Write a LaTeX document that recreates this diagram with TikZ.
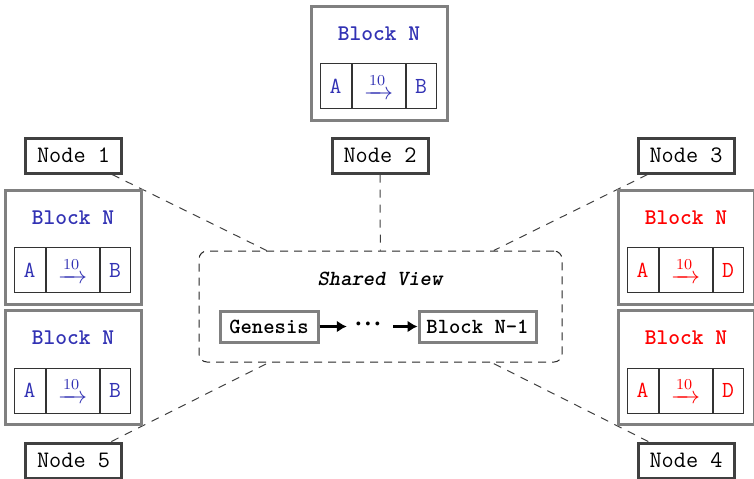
\documentclass[tikz,border=0pt]{standalone}
\usepackage{amsmath}
\usetikzlibrary{calc,arrows.meta,backgrounds}
\definecolor{blockblue}{RGB}{50,50,180}
\definecolor{boxgray}{RGB}{128,128,128}
\definecolor{nodegray}{RGB}{64,64,64}
\tikzset{
  peer/.style={draw=nodegray,line width=1.5pt,fill=white,minimum width=48pt,minimum height=17.5pt,inner sep=0pt,font=\fontsize{11.8}{13}\selectfont\ttfamily},
  blockbox/.style={draw=boxgray,line width=1.5pt,fill=white,minimum width=68pt,minimum height=57pt,inner sep=0pt},
  blocktitle/.style={font=\fontsize{11.2}{13}\selectfont\ttfamily\bfseries,inner sep=0pt},
  cell/.style={draw=black!80,line width=0.5pt,minimum height=22.5pt,inner sep=0pt,font=\fontsize{11.5}{13}\selectfont\ttfamily},
  chainbox/.style={draw=boxgray,line width=1.5pt,fill=white,minimum height=15.5pt,inner sep=0pt,font=\fontsize{10.8}{12}\selectfont\ttfamily\bfseries},
  shared/.style={draw=black!85,line width=0.5pt,dash pattern=on 4pt off 3pt,rounded corners=4pt,minimum width=181.5pt,minimum height=55.5pt,inner sep=0pt},
  link/.style={draw=black!75,line width=0.5pt,dash pattern=on 4pt off 3.5pt},
  chainarrow/.style={line width=1.3pt,-{Latex[length=5pt,width=6pt]}}
}
\newcommand{\tenarrow}{$\xrightarrow{\makebox[8pt]{\fontsize{7.6}{8}\selectfont\rmfamily 10}}$}
% #1 name, #2 x, #3 y, #4 colour, #5 right letter
\newcommand{\chainblock}[5]{%
  \node[blockbox] (#1) at (#2,#3) {};
  \node[blocktitle,text=#4] (#1t) at ($(#1.north)+(0,29)$) {Block N};
  \node[cell,minimum width=26.5pt,text=#4] (#1m) at ($(#1.north)+(-0.5,81.5)$) {\tenarrow};
  \node[cell,minimum width=15.5pt,anchor=east,text=#4] (#1a) at (#1m.west) {A};
  \node[cell,minimum width=15pt,anchor=west,text=#4] (#1b) at (#1m.east) {#5};
}
\begin{document}
\begin{tikzpicture}[x=0.5pt,y=-0.5pt]
\useasboundingbox (0,0) rectangle (754,478);
% shared view
\node[shared] (sv) at (380.5,306.5) {};
\node[font=\fontsize{10.8}{12}\selectfont\ttfamily\bfseries\itshape,inner sep=0pt] (svt) at (380,279) {Shared View};
\node[chainbox,minimum width=49pt] (gen) at (269,326.5) {Genesis};
\node[chainbox,minimum width=58.5pt] (bn1) at (477.5,326.5) {Block N-1};
\node[font=\fontsize{14}{15}\selectfont\ttfamily\bfseries,inner xsep=1pt,inner ysep=1pt] (dots) at (368,326.5) {\raisebox{-3pt}[0pt][0pt]{·\kern-2.6pt·\kern-2.6pt·}};
\draw[chainarrow] (gen.east) -- ([xshift=-1pt]dots.west);
\draw[chainarrow] ([xshift=3pt]dots.east) -- (bn1.west);
% peers
\node[peer] (n1) at (73.5,155.5) {Node 1};
\node[peer] (n2) at (380,155.5) {Node 2};
\node[peer] (n3) at (686,155.5) {Node 3};
\node[peer] (n5) at (73.5,460.5) {Node 5};
\node[peer] (n4) at (686,460.5) {Node 4};
% blocks
\chainblock{b2}{379}{63}{blockblue}{B}
\chainblock{b1}{73}{247}{blockblue}{B}
\chainblock{b5}{73}{367.5}{blockblue}{B}
\chainblock{b3}{686}{247}{red}{D}
\chainblock{b4}{686}{367.5}{red}{D}
% links
\begin{scope}[on background layer]
\draw[link] (n1) -- (sv);
\draw[link] (n2) -- (sv);
\draw[link] (n3) -- (sv);
\draw[link] (n5) -- (sv);
\draw[link] (n4) -- (sv);
\end{scope}
\end{tikzpicture}
\end{document}
